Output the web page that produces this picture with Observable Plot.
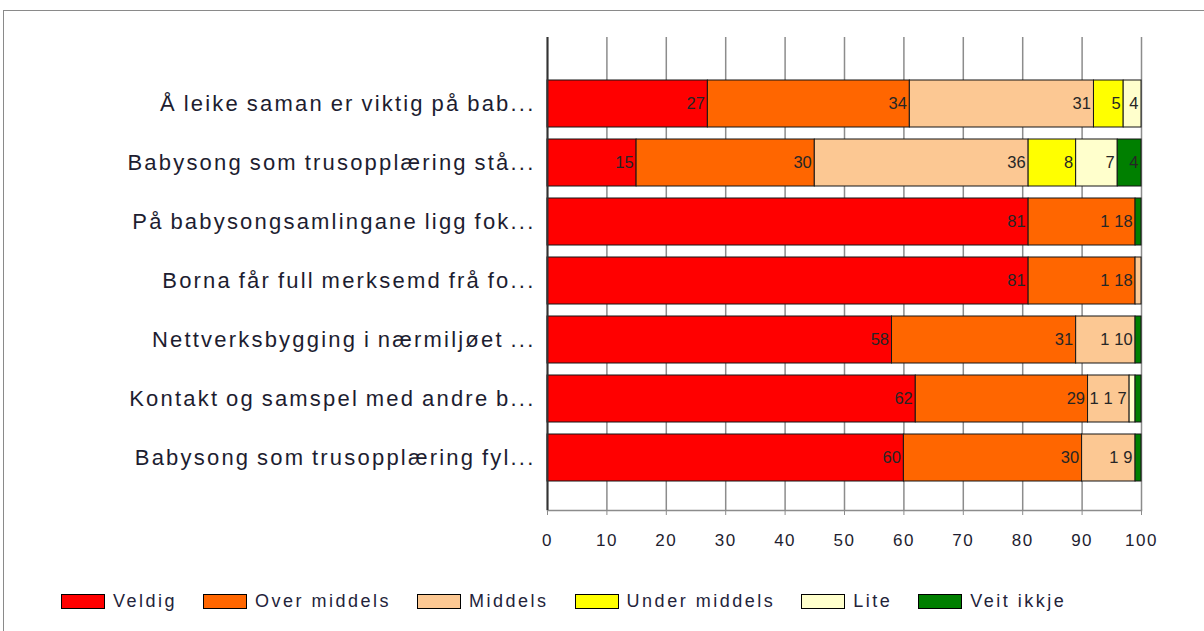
<!DOCTYPE html>
<html>
<head>
<meta charset="utf-8">
<script src="https://cdn.jsdelivr.net/npm/d3@7"></script>
<script src="https://cdn.jsdelivr.net/npm/@observablehq/plot@0.6"></script>
<style>
  html, body { margin: 0; padding: 0; background: #fff; }
  body { width: 1204px; height: 631px; overflow: hidden; position: relative; font-family: "Liberation Sans", Arial, sans-serif; }
  #frame { position: absolute; left: 3px; top: 10px; width: 1300px; height: 700px; border-top: 1px solid #8a8a8a; border-left: 1px solid #8a8a8a; }
  #chart { position: absolute; left: 0; top: 0; }
  #legend { position: absolute; top: 591px; left: 61px; display: flex; align-items: center; font-size: 18px; letter-spacing: 2.5px; color: #23233a; }
  .item { display: flex; align-items: center; margin-right: 26px; }
  .sw { width: 42px; height: 13px; border: 1px solid #000; margin-right: 8px; }
  #chart g[aria-label*="y-axis"] text { letter-spacing: 2.2px; word-spacing: -1.5px; }
  #chart g[aria-label*="x-axis"] text { letter-spacing: 1.5px; }
  #chart g[aria-label="data labels"] text { letter-spacing: 1px; }
</style>
</head>
<body>
<div id="frame"></div>
<div id="chart"></div>
<div id="legend"></div>
<script>
const questions = [
  "Å leike saman er viktig på bab...",
  "Babysong som trusopplæring stå...",
  "På babysongsamlingane ligg fok...",
  "Borna får full merksemd frå fo...",
  "Nettverksbygging i nærmiljøet ...",
  "Kontakt og samspel med andre b...",
  "Babysong som trusopplæring fyl..."
];
const categories = ["Veldig", "Over middels", "Middels", "Under middels", "Lite", "Veit ikkje"];
const colors = ["#ff0000", "#ff6600", "#fcc893", "#ffff00", "#ffffcc", "#007f00"];

const veldig       = [27, 15, 81, 81, 58, 62, 60];
const overMiddels  = [34, 30, 18, 18, 31, 29, 30];
const middels      = [31, 36,  0,  1, 10,  7,  9];
const underMiddels = [ 5,  8,  0,  0,  0,  0,  0];
const lite         = [ 4,  7,  0,  0,  0,  1,  0];
const veitIkkje    = [ 0,  4,  1,  0,  1,  1,  1];

const xTicks = [0, 10, 20, 30, 40, 50, 60, 70, 80, 90, 100];

const series = [veldig, overMiddels, middels, underMiddels, lite, veitIkkje];
const data = questions.flatMap((q, i) =>
  categories.map((c, j) => ({question: q, category: c, value: series[j][i]}))
).filter(d => d.value > 0);

// Data labels at the inner end of each segment; labels of very thin
// segments are moved to the left of the preceding label (as Excel did).
const labels = [];
questions.forEach((q, i) => {
  let cum = 0, anchor = null;
  series.forEach((s) => {
    const v = s[i];
    if (v <= 0) return;
    cum += v;
    const text = String(v);
    if (v > 1 || anchor === null) {
      labels.push({question: q, end: Math.min(cum, 100), text, shift: -3});
      anchor = labels[labels.length - 1];
    } else {
      const lab = {question: q, end: anchor.end, text, shift: anchor.shift - anchor.text.length * 9 - 5};
      labels.push(lab);
      anchor = lab;
    }
  });
});
const shifts = [...new Set(labels.map(d => d.shift))];
const labelMarks = shifts.map(s => Plot.text(labels.filter(d => d.shift === s), {
  x: "end", y: "question", text: "text", dx: s,
  textAnchor: "end", fontSize: 16.5, fill: "#262626",
  ariaLabel: "data labels"
}));

const chart = Plot.plot({
  width: 1204,
  height: 552,
  marginLeft: 547,
  marginRight: 63,
  marginTop: 37,
  marginBottom: 42,
  x: {domain: [0, 100], clamp: true, ticks: xTicks, label: null},
  y: {domain: questions, paddingInner: 0.2, paddingOuter: 0.1, insetTop: 37.5, insetBottom: 22.5, label: null},
  color: {domain: categories, range: colors},
  style: {fontFamily: "'Liberation Sans', Arial, sans-serif", color: "#1d1d30", background: "transparent"},
  marks: [
    Plot.gridX(xTicks, {stroke: "#8c8c8c", strokeOpacity: 1, strokeWidth: 1.5}),
    Plot.frame({anchor: "bottom", stroke: "#8c8c8c", strokeWidth: 1.5}),
    Plot.barX(data, {x: "value", y: "question", z: "category", fill: "category", stroke: "#151515", strokeWidth: 1}),
    ...labelMarks,
    Plot.ruleX([0], {stroke: "#333", strokeWidth: 2}),
    Plot.axisY({tickSize: 0, tickPadding: 12, fontSize: 22}),
    Plot.axisX({ticks: xTicks, tickSize: 5, tickPadding: 18, fontSize: 17, stroke: "#8c8c8c"})
  ]
});
document.getElementById("chart").appendChild(chart);

const legend = d3.select("#legend");
categories.forEach((c, i) => {
  const item = legend.append("div").attr("class", "item");
  item.append("div").attr("class", "sw").style("background", colors[i]);
  item.append("span").text(c);
});
</script>
</body>
</html>
